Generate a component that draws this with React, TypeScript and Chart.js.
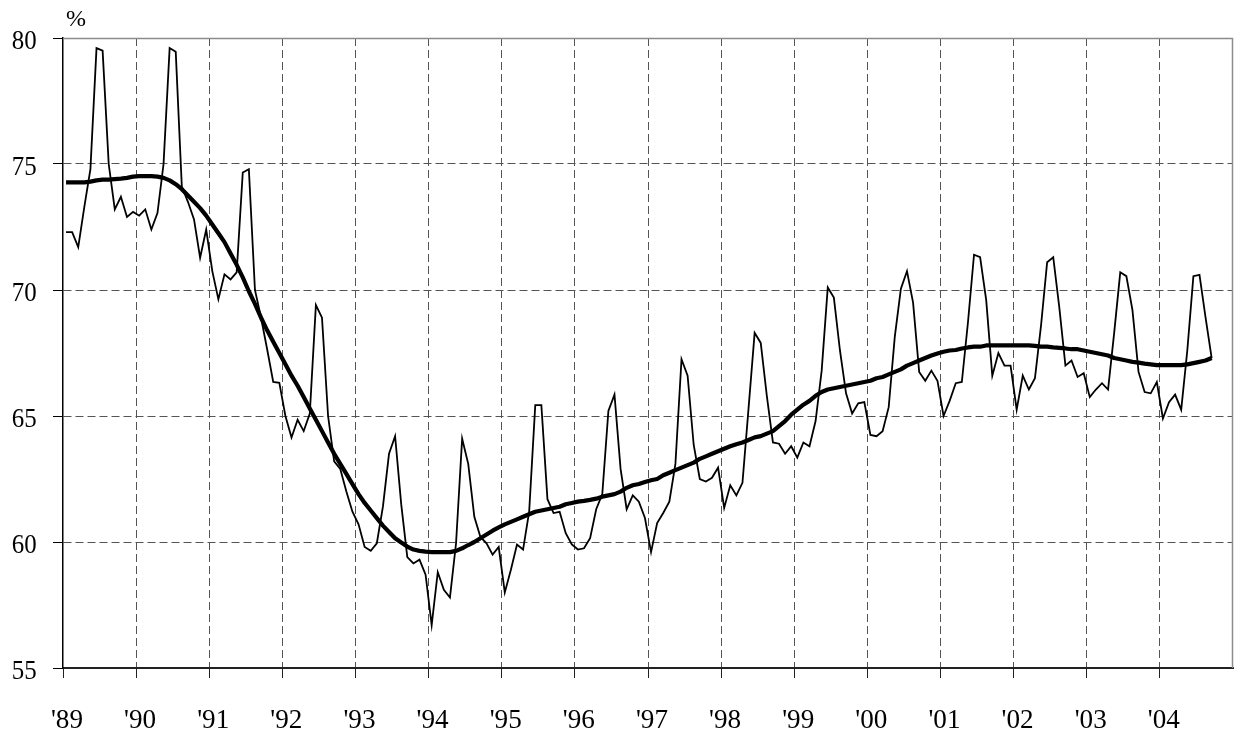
import { useEffect, useRef } from 'react';
import { Chart, registerables } from 'chart.js';

Chart.register(...registerables);

// Year tick labels (one per January, 1989-2004)
const yearLabels = ["'89", "'90", "'91", "'92", "'93", "'94", "'95", "'96", "'97", "'98", "'99", "'00", "'01", "'02", "'03", "'04"];

// Monthly values, Jan 1989 - Sep 2004 (%)
const monthlyRate = [
  72.3, 72.3, 71.7, 73.3, 74.8, 79.6, 79.5, 75.0, 73.2, 73.7, 72.9, 73.1, // 1989
  72.95, 73.2, 72.4, 73.05, 75.0, 79.6, 79.45, 74.1, 73.5, 72.8, 71.28, 72.4, // 1990
  70.75, 69.63, 70.62, 70.42, 70.7, 74.66, 74.79, 70.0, 68.9, 67.65, 66.35, 66.32, // 1991
  65.0, 64.15, 64.85, 64.4, 65.1, 69.4, 68.9, 65.0, 63.2, 62.9, 62.0, 61.2, // 1992
  60.7, 59.8, 59.65, 59.95, 61.4, 63.5, 64.2, 61.5, 59.4, 59.15, 59.3, 58.7, // 1993
  56.7, 58.8, 58.1, 57.8, 59.95, 64.1, 63.1, 61.0, 60.2, 59.95, 59.5, 59.8, // 1994
  58.0, 58.9, 59.9, 59.7, 61.2, 65.43, 65.43, 61.7, 61.15, 61.2, 60.35, 59.9, // 1995
  59.7, 59.75, 60.15, 61.3, 61.9, 65.2, 65.85, 62.9, 61.3, 61.85, 61.6, 60.95, // 1996
  59.6, 60.75, 61.15, 61.6, 63.1, 67.25, 66.6, 63.85, 62.5, 62.4, 62.55, 62.95, // 1997
  61.35, 62.25, 61.85, 62.35, 65.3, 68.3, 67.9, 65.8, 63.95, 63.9, 63.5, 63.8, // 1998
  63.35, 63.95, 63.8, 64.8, 66.8, 70.1, 69.7, 67.6, 65.9, 65.1, 65.5, 65.55, // 1999
  64.25, 64.2, 64.4, 65.35, 68.15, 70.05, 70.75, 69.5, 66.75, 66.4, 66.8, 66.4, // 2000
  65.0, 65.6, 66.3, 66.35, 68.7, 71.4, 71.3, 69.6, 66.6, 67.5, 67.0, 67.0, // 2001
  65.25, 66.6, 66.05, 66.5, 68.6, 71.1, 71.3, 69.3, 67.0, 67.2, 66.55, 66.7, // 2002
  65.75, 66.05, 66.3, 66.05, 68.3, 70.7, 70.55, 69.2, 66.75, 65.95, 65.9, 66.35, // 2003
  64.9, 65.55, 65.85, 65.25, 67.6, 70.55, 70.6, 68.9, 67.3, // 2004
];

// Trend values, Jan 1989 - Sep 2004 (%)
const trendRate = [
  74.27, 74.27, 74.27, 74.27, 74.3, 74.35, 74.38, 74.38, 74.4, 74.42, 74.45, 74.5, // 1989
  74.52, 74.52, 74.52, 74.5, 74.45, 74.35, 74.2, 74.0, 73.75, 73.5, 73.25, 72.95, // 1990
  72.6, 72.25, 71.9, 71.45, 71.0, 70.5, 69.95, 69.45, 68.9, 68.4, 67.95, 67.5, // 1991
  67.05, 66.6, 66.2, 65.75, 65.3, 64.85, 64.4, 63.95, 63.5, 63.1, 62.7, 62.3, // 1992
  61.9, 61.55, 61.25, 60.95, 60.65, 60.4, 60.15, 59.98, 59.82, 59.7, 59.65, 59.62, // 1993
  59.6, 59.6, 59.6, 59.6, 59.65, 59.75, 59.88, 60.0, 60.15, 60.3, 60.45, 60.58, // 1994
  60.7, 60.8, 60.9, 61.0, 61.1, 61.2, 61.25, 61.3, 61.35, 61.4, 61.5, 61.55, // 1995
  61.6, 61.63, 61.67, 61.72, 61.8, 61.85, 61.9, 62.0, 62.15, 62.25, 62.3, 62.38, // 1996
  62.45, 62.5, 62.65, 62.75, 62.85, 62.95, 63.05, 63.15, 63.3, 63.4, 63.5, 63.6, // 1997
  63.7, 63.8, 63.88, 63.95, 64.05, 64.15, 64.2, 64.3, 64.4, 64.6, 64.8, 65.05, // 1998
  65.25, 65.45, 65.6, 65.8, 65.95, 66.05, 66.1, 66.15, 66.2, 66.25, 66.3, 66.35, // 1999
  66.4, 66.5, 66.55, 66.65, 66.75, 66.85, 67.0, 67.1, 67.2, 67.3, 67.4, 67.48, // 2000
  67.55, 67.6, 67.62, 67.68, 67.72, 67.75, 67.75, 67.8, 67.8, 67.8, 67.8, 67.8, // 2001
  67.8, 67.8, 67.8, 67.78, 67.75, 67.75, 67.72, 67.7, 67.68, 67.65, 67.65, 67.6, // 2002
  67.55, 67.5, 67.45, 67.4, 67.3, 67.25, 67.2, 67.15, 67.12, 67.08, 67.05, 67.02, // 2003
  67.02, 67.02, 67.02, 67.02, 67.05, 67.1, 67.15, 67.2, 67.3, // 2004
];

const Y_TICKS = [55, 60, 65, 70, 75, 80];
const MONTHS_ON_AXIS = 192;
const FONT_FAMILY = "'Liberation Serif', 'Times New Roman', Times, serif";

export default function App() {
  const ref = useRef<HTMLCanvasElement>(null);

  useEffect(() => {
    if (!ref.current) return;

    const framePlugin = {
      id: 'frame',
      afterDraw(chart: any) {
        const { ctx, chartArea: a, scales } = chart;
        ctx.save();
        // top and right frame of the plot area
        ctx.strokeStyle = '#8c8c8c';
        ctx.lineWidth = 1.5;
        ctx.beginPath();
        ctx.moveTo(a.left, a.top + 0.5);
        ctx.lineTo(a.right - 0.5, a.top + 0.5);
        ctx.lineTo(a.right - 0.5, a.bottom);
        ctx.stroke();

        ctx.fillStyle = '#000';
        // unit label
        ctx.font = `24px ${FONT_FAMILY}`;
        ctx.textBaseline = 'alphabetic';
        ctx.textAlign = 'left';
        ctx.fillText('%', 66, 26);

        // tick labels (y labels slightly condensed like the reference)
        ctx.font = `28px ${FONT_FAMILY}`;
        ctx.textAlign = 'right';
        Y_TICKS.forEach((v) => {
          const py = scales.y.getPixelForValue(v);
          ctx.save();
          ctx.translate(36.7, py + 11);
          ctx.scale(0.89, 1);
          ctx.fillText(String(v), 0, 0);
          ctx.restore();
        });
        ctx.textAlign = 'center';
        yearLabels.forEach((lab, k) => {
          const px = scales.x.getPixelForValue(k * 12) + 4;
          ctx.save();
          ctx.translate(px, 728);
          ctx.scale(0.97, 1);
          ctx.fillText(lab, 0, 0);
          ctx.restore();
        });
        ctx.restore();
      },
    };

    const chart = new Chart(ref.current, {
      type: 'line',
      data: {
        datasets: [
          {
            data: monthlyRate.map((v, i) => ({ x: i + 0.5, y: v })),
            borderColor: '#000',
            borderWidth: 1.8,
            pointRadius: 0,
            tension: 0,
            fill: false,
          },
          {
            data: trendRate.map((v, i) => ({ x: i + 0.5, y: v })),
            borderColor: '#000',
            borderWidth: 4.2,
            pointRadius: 0,
            tension: 0,
            fill: false,
            borderJoinStyle: 'round',
          },
        ],
      },
      options: {
        animation: false,
        responsive: false,
        layout: { padding: { top: 38, right: 3, left: 0, bottom: 0 } },
        plugins: { legend: { display: false }, tooltip: { enabled: false } },
        scales: {
          x: {
            type: 'linear',
            min: 0,
            max: MONTHS_ON_AXIS,
            afterBuildTicks: (s: any) => {
              s.ticks = yearLabels.map((_, k) => ({ value: k * 12 }));
            },
            afterFit: (s: any) => {
              s.height = 67;
            },
            ticks: { display: false, autoSkip: false },
            grid: {
              color: (c: any) => (c.tick && c.tick.value === 0 ? 'rgba(0,0,0,0)' : '#555'),
              tickColor: '#222',
              tickLength: 10,
              lineWidth: 1,
            },
            border: { color: '#222', width: 2, dash: [8, 4] },
          },
          y: {
            min: 55,
            max: 80,
            afterBuildTicks: (s: any) => {
              s.ticks = Y_TICKS.map((v) => ({ value: v }));
            },
            afterFit: (s: any) => {
              s.width = 63;
            },
            ticks: { display: false },
            grid: {
              color: (c: any) =>
                c.tick && (c.tick.value === 55 || c.tick.value === 80) ? 'rgba(0,0,0,0)' : '#555',
              tickColor: '#000',
              tickLength: 10,
              lineWidth: 1,
            },
            border: { color: '#000', width: 1.5, dash: [8, 4] },
          },
        },
      },
      plugins: [framePlugin],
    } as any);

    return () => chart.destroy();
  }, []);

  return (
    <div style={{ position: 'fixed', left: 0, top: 0, width: 1236, height: 735, background: '#fff' }}>
      <canvas ref={ref} width={1236} height={735} style={{ display: 'block' }} />
    </div>
  );
}
